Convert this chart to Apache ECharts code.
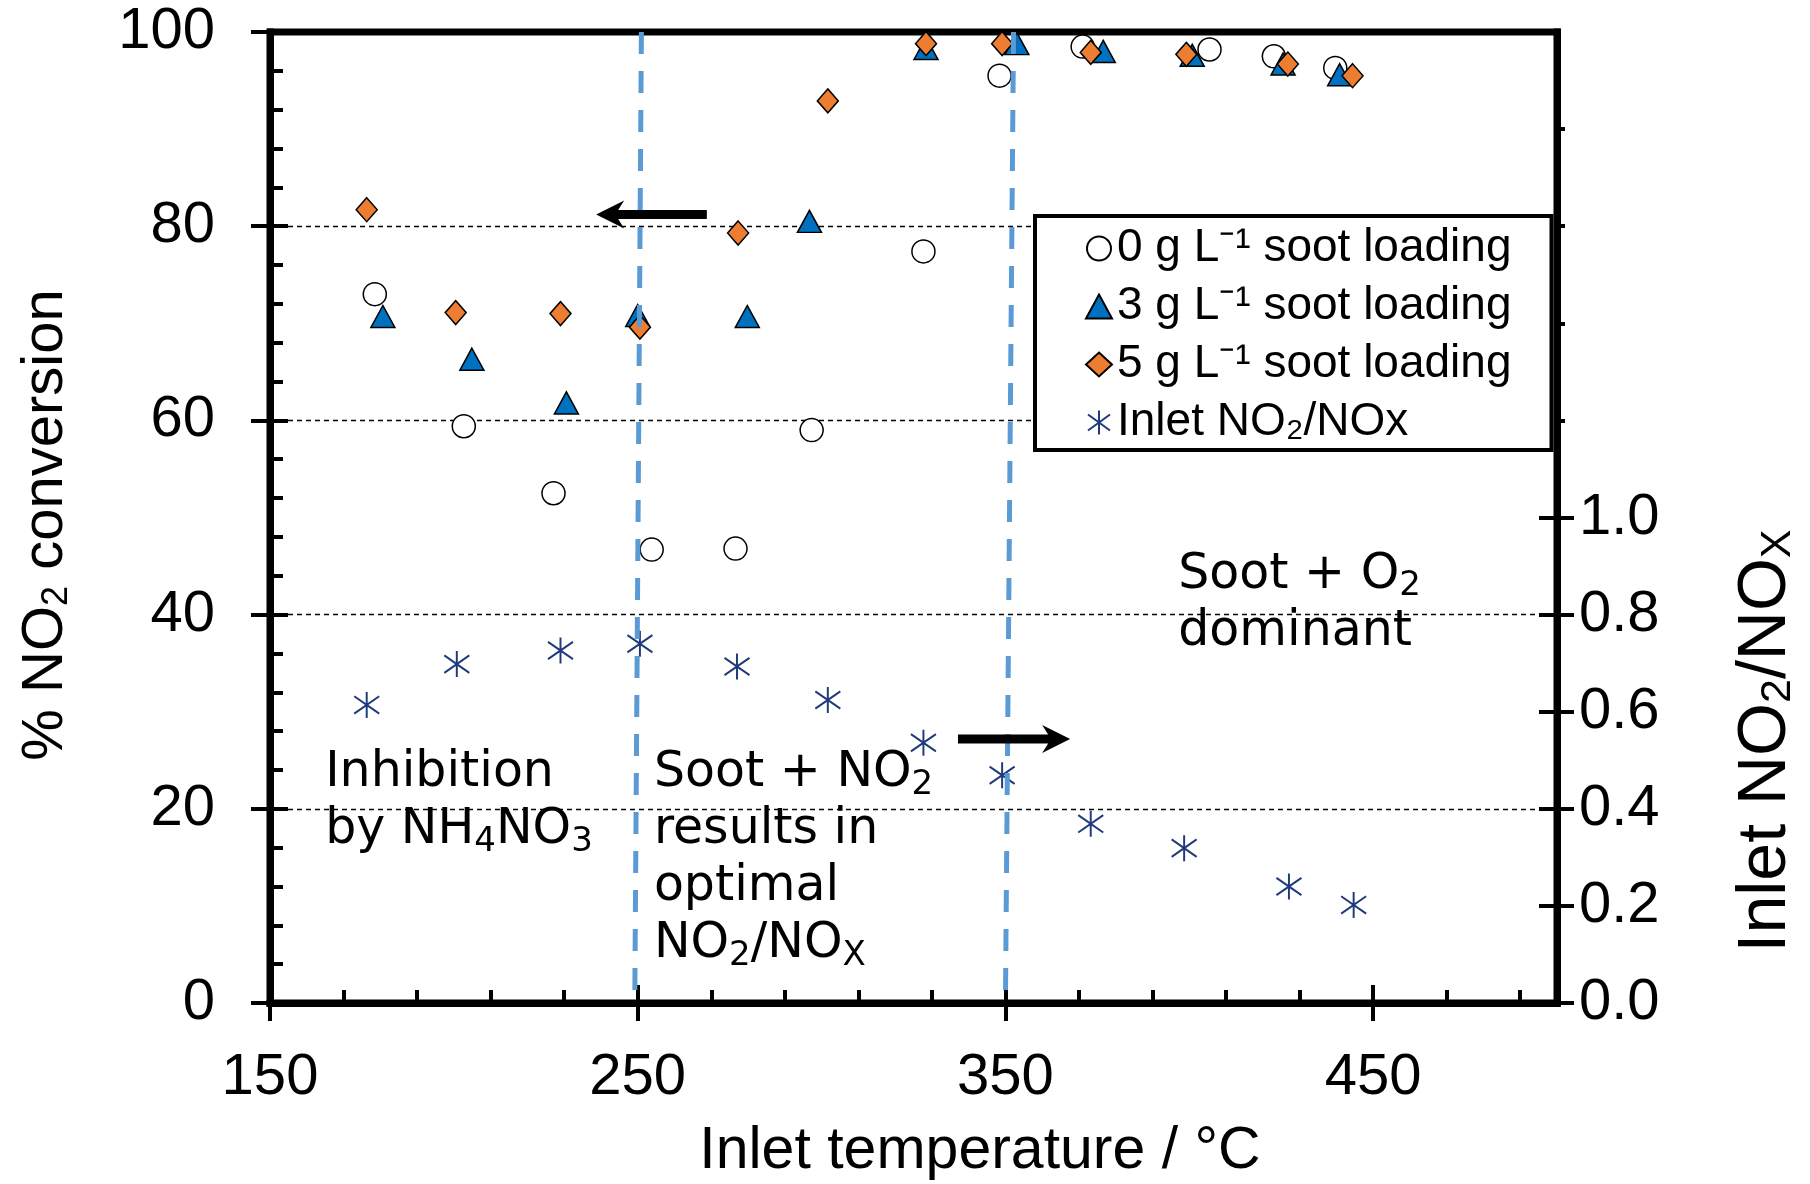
<!DOCTYPE html>
<html><head><meta charset="utf-8">
<script src="https://cdn.jsdelivr.net/npm/echarts@6/dist/echarts.min.js"></script>
<style>html,body{margin:0;padding:0;background:#fff}#c{width:1810px;height:1184px}</style>
</head><body><div id="c"></div>
<script>
// ---- data ----
const temp0 = [178.5, 202.7, 227.1, 253.8, 276.6, 297.3, 327.7, 348.4, 371.0, 405.5, 423.0, 439.7];
const conv0 = [73.0, 59.4, 52.5, 46.7, 46.8, 59.0, 77.4, 95.5, 98.5, 98.2, 97.5, 96.3];
const temp3 = [180.7, 204.9, 230.6, 250.0, 279.8, 296.7, 328.4, 353.1, 376.6, 400.8, 425.5, 440.9];
const conv3 = [70.7, 66.3, 61.8, 70.8, 70.7, 80.5, 98.3, 98.8, 98.0, 97.6, 96.7, 95.6];
const temp5 = [176.3, 200.5, 229.0, 250.6, 277.3, 301.7, 328.4, 349.1, 373.2, 399.2, 426.8, 444.4];
const conv5 = [81.7, 71.1, 71.0, 69.6, 79.3, 92.9, 98.8, 98.8, 97.9, 97.7, 96.7, 95.5];
const tempNOx = [176.3, 200.8, 229.0, 250.6, 277.0, 301.7, 327.7, 349.1, 373.2, 398.6, 427.1, 444.7];
const ratioNOx = [0.614, 0.698, 0.726, 0.740, 0.693, 0.624, 0.536, 0.469, 0.369, 0.319, 0.240, 0.202];

const seriesNames = ['0 g L\u207B\u00B9 soot loading', '3 g L\u207B\u00B9 soot loading', '5 g L\u207B\u00B9 soot loading', 'Inlet NO\u2082/NOx'];

const xMajorTicks = [150, 250, 350, 450];
const xMinorTicks = [150, 170, 190, 210, 230, 250, 270, 290, 310, 330, 350, 370, 390, 410, 430, 450, 470, 490];
const yRightTicks = [0, 0.2, 0.4, 0.6, 0.8, 1.0];
const yRightUpperTicks = [1.2, 1.4, 1.6, 1.8];

// dashed region dividers (x at top of plot, x at bottom of plot)
const dividerTopX = [251.0, 352.2];
const dividerBottomX = [249.2, 350.0];
// arrows (start x, end x (tip), y)
const arrowStartX = [268.8, 337.1];
const arrowEndX = [238.7, 367.6];
const arrowY = [81.2, 27.2];

// annotations (top-left anchored)
const annotationX = [165.0, 254.4, 397.0];
const annotationY = [26.6, 26.6, 47.0];
const annotationText = [
  'Inhibition\nby NH{s|4}NO{s|3}',
  'Soot + NO{s|2}\nresults in\noptimal\nNO{s|2}/NO{s|X}',
  'Soot + O{s|2}\ndominant'
];

const pts = (xs, ys) => xs.map((x, i) => [x, ys[i]]);
const G = {left: 270, top: 32, width: 1287, height: 971, outerBoundsMode: 'none', containLabel: false};
const SANS = 'Liberation Sans, Arial, sans-serif';
const VERD = 'DejaVu Sans, Verdana, sans-serif';
const axLine = {show: true, lineStyle: {color: '#000', width: 7, cap: 'square'}};
const noLine = {show: false};
const noLabel = {show: false};
const noSplit = {show: false};
const tick = (inside, len, vals, w) => {
  const t = {show: true, inside: inside, length: len, lineStyle: {color: '#000', width: w || 4}};
  if (vals) t.customValues = vals;
  return t;
};
const asterisk = 'path://M12,0 L12,24 M1,4 L23,20 M1,20 L23,4';

const chart = echarts.init(document.getElementById('c'), null, {renderer: 'canvas'});
const titleGraphics = [
  {type: 'text', x: 46, y: 525, rotation: Math.PI / 2, z: 20,
   style: {text: '% NO{s|2} conversion', fontSize: 58, fontFamily: SANS, fill: '#000', align: 'center', verticalAlign: 'middle', lineHeight: 58,
     rich: {s: {fontSize: 36, fontFamily: SANS, fill: '#000', lineHeight: 29, verticalAlign: 'bottom'}}}},
  {type: 'text', x: 1766, y: 741, rotation: Math.PI / 2, z: 20,
   style: {text: 'Inlet NO{s|2}/NO{s|X}', fontSize: 68, fontFamily: SANS, fill: '#000', align: 'center', verticalAlign: 'middle', lineHeight: 68,
     rich: {s: {fontSize: 43, fontFamily: SANS, fill: '#000', lineHeight: 34, verticalAlign: 'bottom'}}}},
  {type: 'text', x: 980, y: 1152, z: 20,
   style: {text: 'Inlet temperature / \u00B0C', fontSize: 59, fontFamily: SANS, fill: '#000', align: 'center', verticalAlign: 'middle'}}
];
const option = {
  animation: false,
  backgroundColor: '#fff',
  grid: [Object.assign({}, G), Object.assign({}, G),
         Object.assign({}, G, {show: true, borderColor: '#000', borderWidth: 7, backgroundColor: 'rgba(0,0,0,0)'})],
  xAxis: [
    {gridIndex: 0, type: 'value', min: 150, max: 500, position: 'bottom',
     axisLine: axLine, axisTick: tick(false, 18, xMajorTicks),
     axisLabel: {customValues: xMajorTicks, fontSize: 58, fontFamily: SANS, color: '#000', margin: 46},
     splitLine: noSplit},
    {gridIndex: 1, type: 'value', min: 150, max: 500, position: 'bottom',
     axisLine: noLine, axisTick: tick(true, 13, xMinorTicks), axisLabel: noLabel, splitLine: noSplit},
    {gridIndex: 2, type: 'value', min: 150, max: 500, position: 'bottom',
     axisLine: noLine, axisTick: tick(true, 18, xMajorTicks), axisLabel: noLabel, splitLine: noSplit}
  ],
  yAxis: [
    {gridIndex: 0, type: 'value', min: 0, max: 100, interval: 20, position: 'left',
     axisLine: axLine, axisTick: tick(false, 19),
     axisLabel: {fontSize: 58, fontFamily: SANS, color: '#000', margin: 55},
     splitLine: {show: true, lineStyle: {color: '#000', width: 1.3, type: [5, 4]}}},
    {gridIndex: 0, type: 'value', min: 0, max: 2, interval: 0.2, position: 'right',
     axisLine: axLine, axisTick: tick(false, 17, yRightTicks),
     axisLabel: {customValues: yRightTicks, formatter: v => Number(v).toFixed(1), fontSize: 58, fontFamily: SANS, color: '#000', margin: 22},
     splitLine: noSplit},
    {gridIndex: 1, type: 'value', min: 0, max: 100, interval: 4, position: 'left',
     axisLine: noLine, axisTick: tick(true, 13), axisLabel: noLabel, splitLine: noSplit},
    {gridIndex: 1, type: 'value', min: 0, max: 2, interval: 0.2, position: 'right',
     axisLine: noLine, axisTick: tick(true, 18, yRightTicks), axisLabel: noLabel, splitLine: noSplit},
    {gridIndex: 2, type: 'value', min: 0, max: 100, interval: 20, position: 'left',
     axisLine: noLine, axisTick: tick(true, 18), axisLabel: noLabel, splitLine: noSplit},
    {gridIndex: 2, type: 'value', min: 0, max: 2, interval: 0.2, position: 'right',
     axisLine: noLine, axisTick: tick(false, 8, yRightUpperTicks), axisLabel: noLabel, splitLine: noSplit}
  ],
  legend: {
    data: seriesNames, orient: 'vertical', left: 1035, top: 216,
    padding: [9, 40, 4, 50], itemWidth: 26, itemHeight: 24, itemGap: 11,
    backgroundColor: '#fff', borderColor: '#000', borderWidth: 4, borderRadius: 0,
    selectedMode: false, z: 10,
    textStyle: {fontFamily: SANS, fontSize: 46, color: '#000', lineHeight: 47}
  },
  graphic: titleGraphics,
  series: [
    {name: seriesNames[0], type: 'scatter', xAxisIndex: 0, yAxisIndex: 0, data: pts(temp0, conv0),
     symbol: 'circle', symbolSize: 23, itemStyle: {color: '#fff', borderColor: '#000', borderWidth: 1.5, opacity: 1}, z: 2},
    {name: seriesNames[1], type: 'scatter', xAxisIndex: 0, yAxisIndex: 0, data: pts(temp3, conv3),
     symbol: 'triangle', symbolSize: [24, 22], itemStyle: {color: '#0070C0', borderColor: '#000', borderWidth: 1.5, opacity: 1}, z: 2},
    {name: seriesNames[2], type: 'scatter', xAxisIndex: 0, yAxisIndex: 0, data: pts(temp5, conv5),
     symbol: 'diamond', symbolSize: [21, 24], itemStyle: {color: '#ED7D31', borderColor: '#000', borderWidth: 1.5, opacity: 1}, z: 2},
    {name: seriesNames[3], type: 'scatter', xAxisIndex: 0, yAxisIndex: 1, data: pts(tempNOx, ratioNOx),
     symbol: asterisk, symbolSize: [25, 26], itemStyle: {color: 'rgba(0,0,0,0)', borderColor: '#1F3A7A', borderWidth: 2, opacity: 1}, z: 2},
    {name: 'dividers', type: 'scatter', xAxisIndex: 0, yAxisIndex: 0, data: [], silent: true,
     markLine: {silent: true, symbol: 'none', z: 5, label: {show: false},
       lineStyle: {color: '#5B9BD5', width: 5, type: [22, 17]},
       data: dividerTopX.map((x, i) => [{coord: [x, 100]}, {coord: [dividerBottomX[i], 0]}])}}
  ]
};
chart.setOption(option);

const toPx = (x, y) => chart.convertToPixel({xAxisIndex: 0, yAxisIndex: 0}, [x, y]);

// annotations: text anchored (top-left) at data positions
const annoGraphics = annotationX.map((x, i) => {
  const p = toPx(x, annotationY[i]);
  return {type: 'text', x: p[0], y: p[1], z: 30,
    style: {text: annotationText[i], fontSize: 49, fontFamily: VERD, fill: '#000', align: 'left', verticalAlign: 'top', lineHeight: 57,
      rich: {s: {fontSize: 34, fontFamily: VERD, fill: '#000', lineHeight: 30, verticalAlign: 'bottom'}}}};
});

// arrows: shaft + notched head, built from the data-space endpoints
const arrowGraphics = arrowStartX.map((sx, i) => {
  const s = toPx(sx, arrowY[i]);
  const t = toPx(arrowEndX[i], arrowY[i]);
  const u = t[0] > s[0] ? 1 : -1;
  const L = 28, W = 14, h = 4.5, notch = 6;
  const y = t[1];
  const points = [
    [t[0], y],
    [t[0] - u * L, y - W],
    [t[0] - u * (L - notch), y - h],
    [s[0], y - h],
    [s[0], y + h],
    [t[0] - u * (L - notch), y + h],
    [t[0] - u * L, y + W]
  ];
  return {type: 'polygon', z: 25, shape: {points: points}, style: {fill: '#000', stroke: null}};
});

chart.setOption({graphic: titleGraphics.concat(annoGraphics, arrowGraphics)});
</script>
</body></html>
